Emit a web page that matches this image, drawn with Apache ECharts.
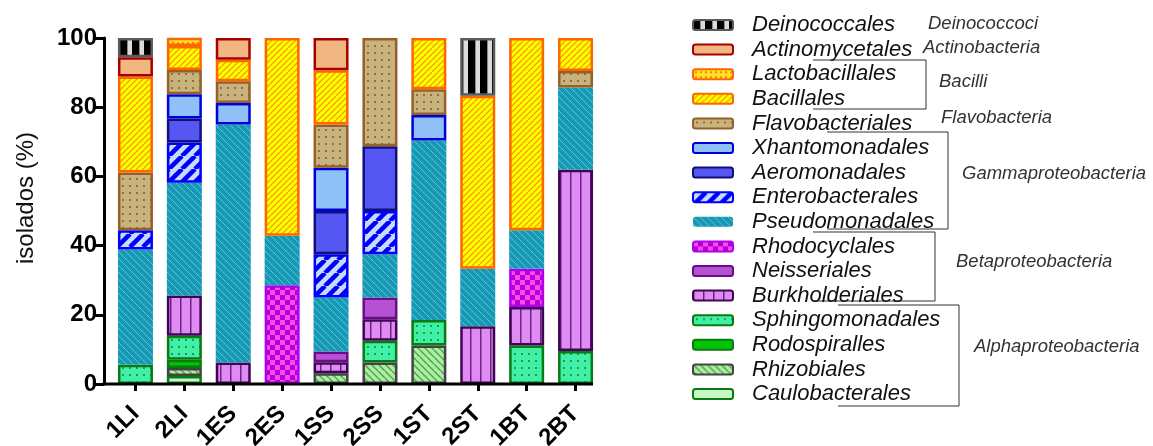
<!DOCTYPE html>
<html>
<head>
<meta charset="utf-8">
<script src="https://cdn.jsdelivr.net/npm/echarts@6/dist/echarts.min.js"></script>
<style>
  html, body { margin: 0; padding: 0; background: #fff; }
  #chart { width: 1153px; height: 446px; }
</style>
</head>
<body>
<div id="chart"></div>
<script>
// Sample groups (x axis)
const categories = ['1LI', '2LI', '1ES', '2ES', '1SS', '2SS', '1ST', '2ST', '1BT', '2BT'];
const yTicks = [0, 20, 40, 60, 80, 100];

// Percentage of isolates per order, listed bottom to top of each stacked bar
const caulobacterales  = [null, 2.33, null, null, null, null, null, null, null, null];
const rhizobiales      = [null, 2.33, null, null, 3.13, 6.25, 11.11, null, null, null];
const rodospiralles    = [null, 2.33, null, null, null, null, null, null, null, null];
const sphingomonadales = [5.56, 6.98, null, null, null, 6.25, 7.41, null, 11.11, 9.52];
const burkholderiales  = [null, 11.63, 6.25, null, 3.13, 6.25, null, 16.67, 11.11, 52.38];
const neisseriales     = [null, null, null, null, 3.13, 6.25, null, null, null, null];
const rhodocyclales    = [null, null, null, 28.57, null, null, null, null, 11.11, null];
const pseudomonadales  = [33.33, 32.56, 68.75, 14.29, 15.63, 12.5, 51.85, 16.67, 11.11, 23.81];
const enterobacterales = [5.56, 11.63, null, null, 12.5, 12.5, null, null, null, null];
const aeromonadales    = [null, 6.98, null, null, 12.5, 18.75, null, null, null, null];
const xhantomonadales  = [null, 6.98, 6.25, null, 12.5, null, 7.41, null, null, null];
const flavobacteriales = [16.67, 6.98, 6.25, null, 12.5, 31.25, 7.41, null, null, 4.76];
const bacillales       = [27.78, 6.98, 6.25, 57.14, 15.63, null, 14.81, 50.0, 55.56, 9.52];
const lactobacillales  = [null, 2.33, null, null, null, null, null, null, null, null];
const actinomycetales  = [5.56, null, 6.25, null, 9.38, null, null, null, null, null];
const deinococcales    = [5.56, null, null, null, null, null, null, 16.67, null, null];

// Class groupings shown beside the legend
const classLabels = ['Deinococcoci', 'Actinobacteria', 'Bacilli', 'Flavobacteria',
                     'Gammaproteobacteria', 'Betaproteobacteria', 'Alphaproteobacteria'];

// ---- fill patterns -------------------------------------------------------
function tile(w, h, draw) {
  const c = document.createElement('canvas');
  c.width = w; c.height = h;
  draw(c.getContext('2d'), w, h);
  return { image: c, repeat: 'repeat' };
}
function diag(bg, fg, p, lw, dir) {
  return tile(p, p, (g) => {
    g.fillStyle = bg; g.fillRect(0, 0, p, p);
    g.strokeStyle = fg; g.lineWidth = lw;
    g.beginPath();
    for (const o of [-p, 0, p]) {
      if (dir === '/') { g.moveTo(o, p); g.lineTo(o + p, 0); }
      else { g.moveTo(o, 0); g.lineTo(o + p, p); }
    }
    g.stroke();
  });
}
function dots(bg, fg, w, h, s) {
  return tile(w, h, (g) => {
    g.fillStyle = bg; g.fillRect(0, 0, w, h);
    g.fillStyle = fg; g.fillRect(Math.floor(w / 2), Math.floor(h / 2), s, s);
  });
}
function vstripes(bg, fg, w, lw) {
  return tile(w, 4, (g) => {
    g.fillStyle = bg; g.fillRect(0, 0, w, 4);
    g.fillStyle = fg; g.fillRect(0, 0, lw, 4);
  });
}
const checker = tile(10, 10, (g) => {
  g.fillStyle = '#AE00DE'; g.fillRect(0, 0, 10, 10);
  g.fillStyle = '#FF48E4'; g.fillRect(0, 0, 5, 5); g.fillRect(5, 5, 5, 5);
});
const deinoFill = tile(12, 4, (g) => {
  g.fillStyle = '#dcdcdc'; g.fillRect(0, 0, 12, 4);
  g.fillStyle = '#000'; g.fillRect(0, 0, 7, 4);
  g.fillStyle = '#8a8a8a'; g.fillRect(7, 0, 1, 4);
});

const seriesDefs = [
  { name: 'Caulobacterales',  data: caulobacterales,  fill: '#C9F7C6', border: '#0A7A12' },
  { name: 'Rhizobiales',      data: rhizobiales,      fill: diag('#A6F29E', '#5E9858', 7, 1.4, '\\'), border: '#444444' },
  { name: 'Rodospiralles',    data: rodospiralles,    fill: '#00C400', border: '#0A7A12' },
  { name: 'Sphingomonadales', data: sphingomonadales, fill: dots('#3FF0A6', '#1E9A52', 7, 7, 2), border: '#0A7A12' },
  { name: 'Burkholderiales',  data: burkholderiales,  fill: vstripes('#E08AF4', '#6E2486', 10, 1.5), border: '#3E0652' },
  { name: 'Neisseriales',     data: neisseriales,     fill: '#B552D4', border: '#6A0C88' },
  { name: 'Rhodocyclales',    data: rhodocyclales,    fill: checker, border: '#B000F0' },
  { name: 'Pseudomonadales',  data: pseudomonadales,  fill: diag('#1699B4', '#62C0D4', 7, 1, '\\'), border: '#1699B4', bw: 0 },
  { name: 'Enterobacterales', data: enterobacterales, fill: diag('#C6DBF6', '#0000FF', 13, 4.5, '/'), border: '#0000FF' },
  { name: 'Aeromonadales',    data: aeromonadales,    fill: '#5656F2', border: '#10107C' },
  { name: 'Xhantomonadales',  data: xhantomonadales,  fill: '#90C0F8', border: '#0000DC' },
  { name: 'Flavobacteriales', data: flavobacteriales, fill: dots('#C7B37E', '#9E6A32', 7, 7, 2), border: '#966028' },
  { name: 'Bacillales',       data: bacillales,       fill: diag('#FFFF00', '#F4A000', 6, 1.3, '/'), border: '#FF6600' },
  { name: 'Lactobacillales',  data: lactobacillales,  fill: dots('#FFE22A', '#FF8000', 5, 5, 2), border: '#FF6600' },
  { name: 'Actinomycetales',  data: actinomycetales,  fill: '#F2B682', border: '#A80000' },
  { name: 'Deinococcales',    data: deinococcales,    fill: deinoFill, border: '#5a5a5a' }
];

const series = seriesDefs.map((d) => ({
  name: d.name,
  type: 'bar',
  stack: 'total',
  barWidth: 35,
  data: d.data,
  itemStyle: { color: d.fill, borderColor: d.border, borderWidth: d.bw === undefined ? 2.5 : d.bw },
  emphasis: { disabled: true }
}));

// ---- layout ---------------------------------------------------------------
const gridLeft = 111, gridTop = 38, gridWidth = 489, gridHeight = 346;
const baseY = gridTop + gridHeight;
const lineColor = '#333';
const annFont = 'italic 18.5px "Liberation Sans", Arial, sans-serif';

function bracket(x1, x2, yTop, yBottom) {
  return {
    type: 'polyline', silent: true,
    shape: { points: [[x1, yTop], [x2, yTop], [x2, yBottom], [x1, yBottom]] },
    style: { stroke: lineColor, lineWidth: 1, fill: null }
  };
}
function note(text, x, y) {
  return {
    type: 'text', silent: true, x: x, y: y,
    style: { text: text, font: annFont, fill: '#333', verticalAlign: 'middle', align: 'left' }
  };
}

const chart = echarts.init(document.getElementById('chart'), null, { renderer: 'canvas' });
chart.setOption({
  animation: false,
  backgroundColor: '#fff',
  grid: {
    left: gridLeft, top: gridTop, width: gridWidth, height: gridHeight,
    containLabel: false, outerBoundsMode: 'none'
  },
  legend: {
    orient: 'vertical',
    left: 692, top: 14, padding: 0,
    itemWidth: 40, itemHeight: 10, itemGap: 2.6,
    selectedMode: false,
    data: seriesDefs.map((d) => d.name).reverse(),
    textStyle: {
      fontFamily: '"Liberation Sans", Arial, sans-serif',
      fontStyle: 'italic', fontSize: 22, lineHeight: 22,
      color: '#111', padding: [0, 0, 0, 14]
    }
  },
  xAxis: {
    type: 'category',
    data: categories,
    axisLine: { show: false },
    axisTick: { show: true, alignWithLabel: true, length: 7, lineStyle: { color: '#000', width: 3 } },
    axisLabel: {
      rotate: 45, margin: 26, interval: 0,
      fontFamily: '"Liberation Sans", Arial, sans-serif',
      fontWeight: 'bold', fontSize: 24, color: '#000'
    }
  },
  yAxis: {
    type: 'value',
    min: yTicks[0], max: yTicks[yTicks.length - 1], interval: 20,
    offset: 7,
    name: 'isolados (%)',
    nameLocation: 'middle', nameGap: 66,
    nameTextStyle: {
      fontFamily: '"Liberation Sans", Arial, sans-serif', fontSize: 24, color: '#111',
      padding: [0, 0, 0, 26]
    },
    axisLine: { show: true, lineStyle: { color: '#000', width: 3 } },
    axisTick: { show: true, length: 9, lineStyle: { color: '#000', width: 3 } },
    axisLabel: {
      margin: 7,
      fontFamily: '"Liberation Sans", Arial, sans-serif',
      fontWeight: 'bold', fontSize: 24, color: '#000'
    },
    splitLine: { show: false }
  },
  series: series,
  graphic: [
    // x axis baseline joined to the y axis
    { type: 'line', silent: true, z: 10,
      shape: { x1: gridLeft - 8.5, y1: baseY, x2: gridLeft + gridWidth - 7, y2: baseY },
      style: { stroke: '#000', lineWidth: 3 } },
    bracket(813, 926, 60, 109),
    bracket(827, 948, 132, 229),
    bracket(813, 935, 232, 301),
    bracket(838, 959, 305, 406),
    note(classLabels[0], 928, 24),
    note(classLabels[1], 923, 48),
    note(classLabels[2], 939, 82),
    note(classLabels[3], 941, 118),
    note(classLabels[4], 962, 174),
    note(classLabels[5], 956, 262),
    note(classLabels[6], 974, 347)
  ]
});
</script>
</body>
</html>
